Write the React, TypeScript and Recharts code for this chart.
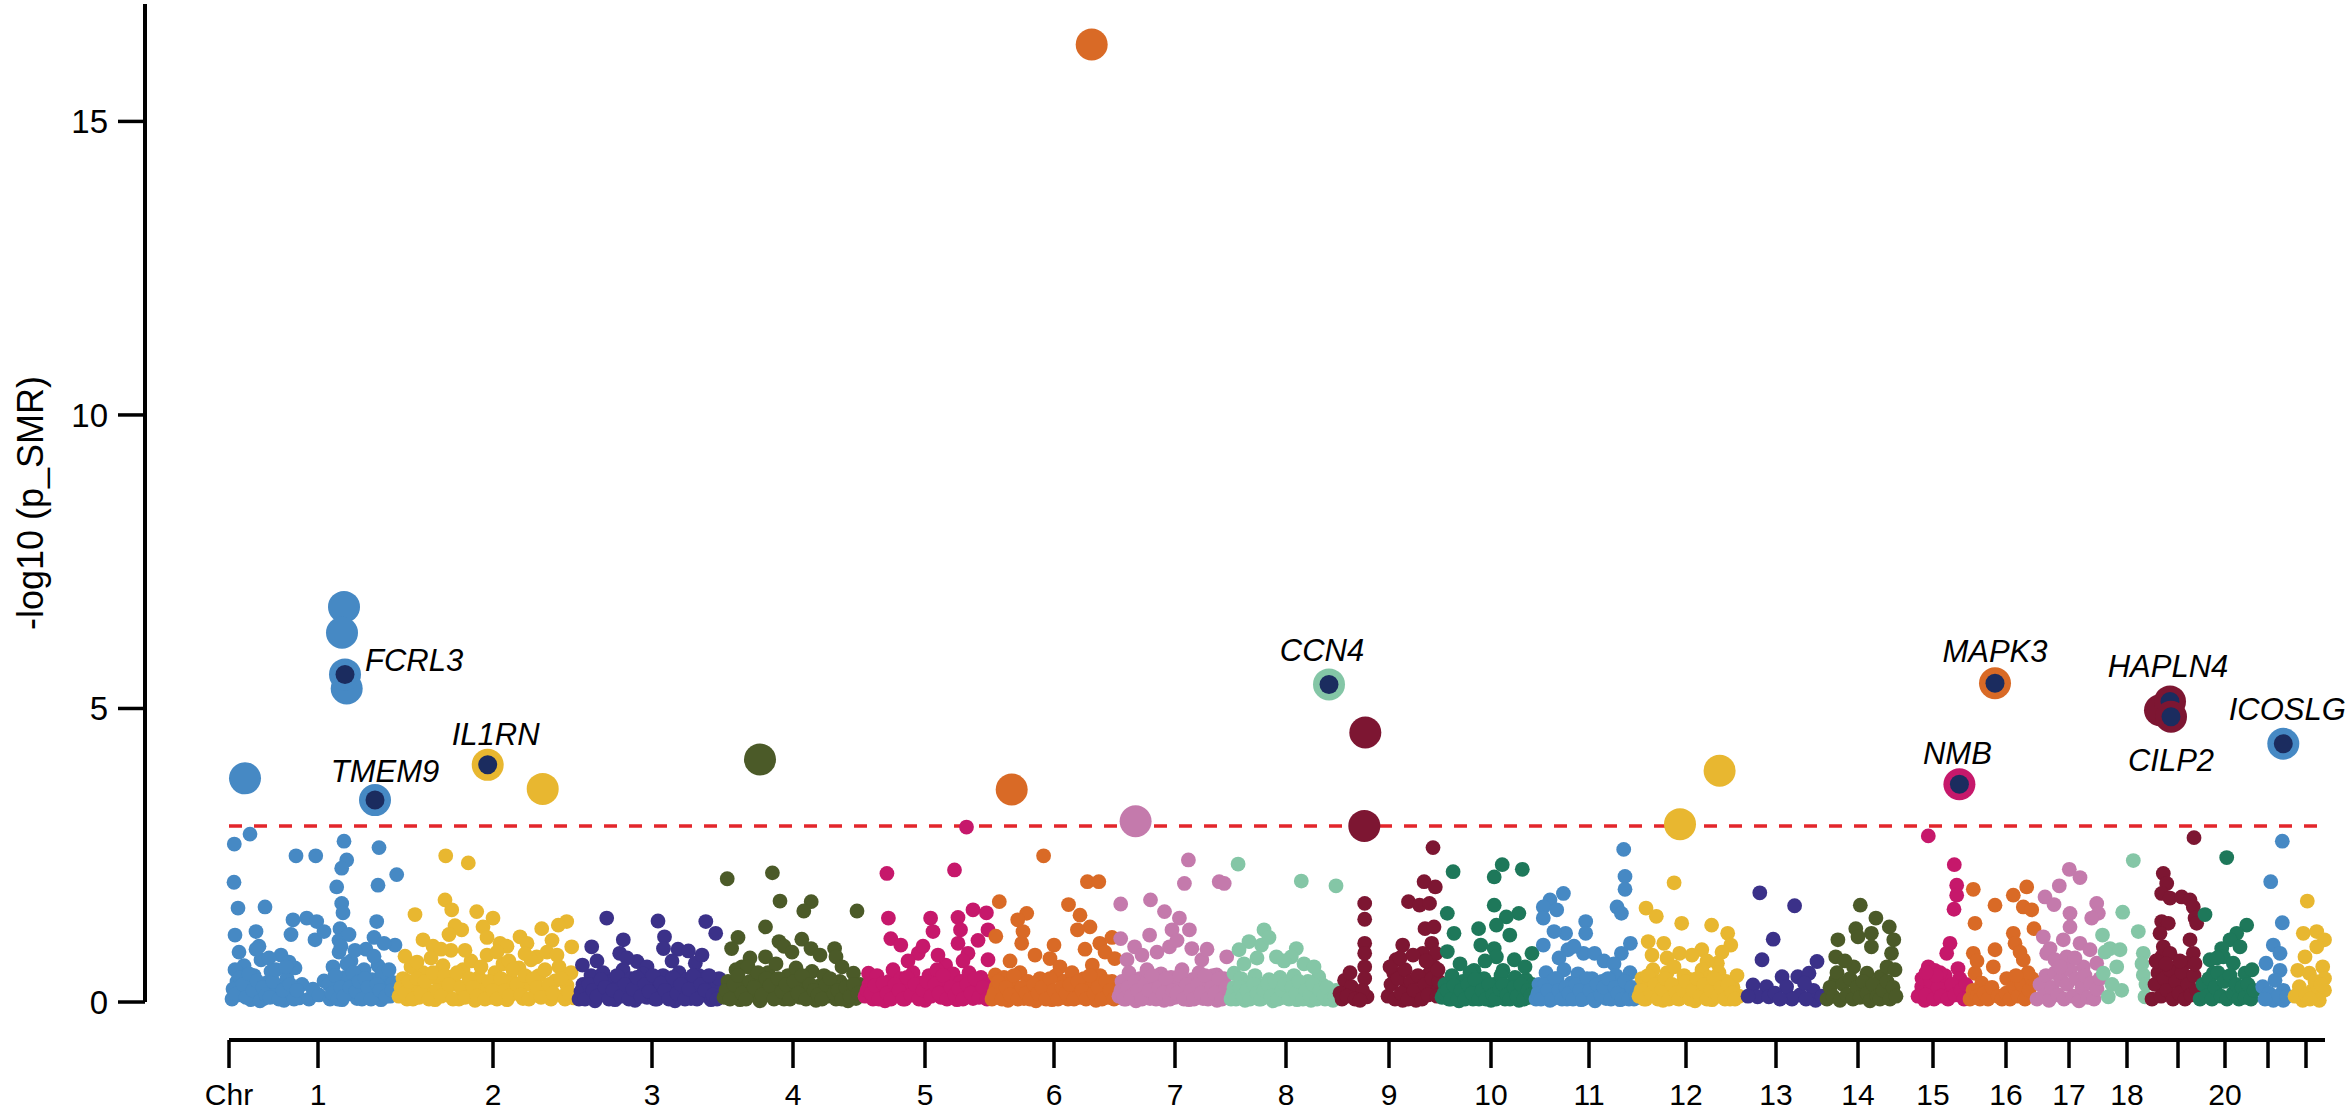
import React from 'react';
import { ScatterChart, Scatter, XAxis, YAxis, ReferenceLine } from 'recharts';

type Pt = [number, number];

const FONT = 'Liberation Sans, Arial, Helvetica, sans-serif';

// genome laid out chromosome after chromosome (arbitrary position units)
const chrLengths = [168, 180, 145, 141, 127, 127, 112, 109, 102, 94, 103, 103, 85, 73, 70, 67, 67, 48, 48, 57, 36, 34];
const chrTickPos = [0, 89, 264, 423, 564, 696, 825, 946, 1057, 1160, 1262, 1360, 1457, 1547, 1629, 1704, 1777, 1840, 1898, 1949, 1996, 2039, 2077];
const chrTickLabels = ['Chr', '1', '2', '3', '4', '5', '6', '7', '8', '9', '10', '11', '12', '13', '14', '15', '16', '17', '18', '', '20', '', ''];
const palette = ['#4689C4', '#E8B730', '#3B3189', '#4B5A28', '#C6186B', '#D96A26', '#C47AAC', '#84C6A6', '#7D1632', '#1E785A'];
const NAVY = '#1B2C5F';
const THRESHOLD = 3;

// [position within chromosome, -log10 p]
const chr1: Pt[] = [[5.3,2.69],[21,2.86],[67,2.49],[86.7,2.49],[115,2.74],[117.7,2.42],[112.7,2.28],[150,2.63],[167.7,2.17],[149,1.99],[5,2.04],[107.7,1.96],[9,1.6],[36,1.62],[27,1.2],[64,1.4],[77.7,1.43],[87.7,1.37],[112.7,1.68],[114,1.52],[147.7,1.37],[166,0.97],[86,1.06],[6,1.14],[111,1.25],[110,1.05],[120,1.15],[145,1.1],[155,1.0],[62,1.15],[95,1.2],[30,0.95],
  [3,0.05],[8,0.35],[12,0.12],[15,0.62],[18,0.28],[22,0.04],[25,0.45],[29,0.18],[32,0.72],[35,0.06],[38,0.33],[42,0.52],[45,0.1],[48,0.25],[52,0.8],[55,0.03],[58,0.4],[62,0.15],[66,0.58],[70,0.07],[73,0.3],[80,0.05],[84,0.22],[90,0.12],[95,0.36],[101,0.05],[104,0.6],[107,0.2],[110,0.85],[113,0.04],[116,0.42],[119,0.14],[122,0.7],[125,0.3],[128,0.06],[131,0.5],[134,0.22],[137,0.9],[140,0.08],[143,0.38],[146,0.16],[149,0.62],[152,0.04],[155,0.28],[158,0.46],[161,0.1],[164,0.33],[6,0.55],[10,0.85],[27,0.9],[40,0.75],[60,0.68],[112,0.95],[118,0.65],[126,0.88],[135,0.55],[145,0.78],[153,0.5],
  [4,0.22],[7,0.14],[11,0.42],[14,0.3],[17,0.08],[20,0.48],[24,0.2],[28,0.36],[31,0.02],[34,0.25],[37,0.12],[41,0.08],[44,0.35],[47,0.55],[50,0.05],[54,0.2],[57,0.6],[61,0.3],[65,0.05],[68,0.2],[100,0.3],[103,0.15],[106,0.45],[109,0.05],[112,0.25],[115,0.1],[121,0.25],[124,0.5],[127,0.18],[130,0.35],[133,0.05],[136,0.4],[139,0.25],[142,0.05],[148,0.3],[151,0.2],[157,0.1],[160,0.55],[163,0.2]];
const chr2: Pt[] = [[48.7,2.49],[71.3,2.37],[18,1.49],[48,1.74],[54.7,1.57],[79.7,1.54],[96,1.43],[144.7,1.25],[169.7,1.37],[161.3,1.31],[26,1.06],[64.7,1.23],[86,1.28],[103,1.0],[123,1.11],[174.7,0.94],[139.7,0.77],[58,1.3],[52,1.15],[90,1.1],[110,0.95],[130,1.0],[155,1.05],[36,0.95],
  [2,0.1],[6,0.4],[10,0.05],[14,0.6],[18,0.25],[22,0.08],[26,0.5],[30,0.2],[34,0.75],[38,0.04],[42,0.35],[46,0.62],[50,0.12],[54,0.88],[58,0.3],[62,0.05],[66,0.55],[70,0.18],[74,0.7],[78,0.03],[82,0.42],[86,0.2],[90,0.8],[94,0.08],[98,0.5],[102,0.25],[106,0.65],[110,0.04],[114,0.38],[118,0.15],[122,0.58],[126,0.06],[130,0.3],[134,0.72],[138,0.12],[142,0.45],[146,0.2],[150,0.85],[154,0.05],[158,0.36],[162,0.6],[166,0.1],[170,0.28],[174,0.5],[177,0.07],[8,0.78],[44,0.9],[68,0.88],[100,0.85],[128,0.82],[160,0.8],[20,0.68],[112,0.7],
  [4,0.25],[8,0.15],[12,0.35],[16,0.05],[20,0.4],[24,0.15],[28,0.35],[32,0.05],[36,0.5],[40,0.2],[44,0.1],[48,0.45],[52,0.3],[56,0.05],[60,0.5],[64,0.25],[68,0.08],[72,0.4],[76,0.25],[80,0.1],[84,0.6],[88,0.05],[92,0.35],[96,0.2],[100,0.05],[104,0.4],[108,0.2],[112,0.1],[116,0.55],[120,0.3],[124,0.12],[128,0.45],[132,0.05],[136,0.4],[140,0.25],[144,0.08],[148,0.55],[152,0.3],[156,0.15],[164,0.4],[168,0.05],[172,0.15]];
const chr3: Pt[] = [[29.7,1.43],[14.7,0.94],[46.3,1.06],[81,1.38],[128.8,1.37],[138.7,1.17],[87.5,1.11],[42.7,0.83],[101,0.9],[111.4,0.87],[118.3,0.66],[60,0.69],[5.4,0.63],[86.5,0.91],[50,0.75],[70,0.6],[95,0.7],[125,0.8],[20,0.7],
  [2,0.05],[6,0.3],[10,0.12],[14,0.45],[18,0.02],[22,0.22],[26,0.5],[30,0.1],[34,0.35],[38,0.04],[42,0.28],[46,0.55],[50,0.15],[54,0.4],[58,0.03],[62,0.25],[66,0.48],[70,0.08],[74,0.32],[78,0.05],[82,0.2],[86,0.45],[90,0.1],[94,0.3],[98,0.02],[102,0.5],[106,0.18],[110,0.38],[114,0.06],[118,0.25],[122,0.45],[126,0.12],[130,0.32],[134,0.04],[138,0.22],[142,0.4],
  [4,0.18],[8,0.05],[12,0.3],[16,0.2],[20,0.1],[24,0.38],[28,0.25],[32,0.05],[36,0.2],[40,0.45],[44,0.1],[48,0.3],[52,0.05],[56,0.22],[60,0.42],[64,0.1],[68,0.3],[72,0.18],[76,0.45],[80,0.05],[84,0.32],[88,0.2],[92,0.05],[96,0.42],[100,0.15],[104,0.3],[108,0.05],[112,0.22],[116,0.45],[120,0.05],[124,0.3],[128,0.2],[132,0.45],[136,0.12],[140,0.05]];
const chr4: Pt[] = [[5.2,2.1],[50.4,2.2],[58,1.72],[89.2,1.71],[81.8,1.55],[135,1.55],[43.5,1.28],[16,1.1],[57,1.03],[79.8,1.07],[112.6,0.91],[114,0.77],[89,0.91],[43.5,0.77],[9.6,0.91],[131.5,0.49],[126.6,0.26],[62,0.95],[70,0.85],[28,0.75],[98,0.8],[20,0.6],[120,0.6],
  [2,0.08],[6,0.35],[10,0.15],[14,0.55],[18,0.04],[22,0.3],[26,0.6],[30,0.12],[34,0.42],[38,0.02],[42,0.25],[46,0.5],[50,0.1],[54,0.65],[58,0.3],[62,0.05],[66,0.45],[70,0.2],[74,0.58],[78,0.08],[82,0.35],[86,0.15],[90,0.52],[94,0.03],[98,0.28],[102,0.45],[106,0.1],[110,0.22],[114,0.05],[118,0.35],[122,0.12],[126,0.02],[130,0.18],[134,0.06],[138,0.3],
  [4,0.2],[8,0.05],[12,0.3],[16,0.45],[20,0.15],[24,0.05],[28,0.35],[32,0.25],[36,0.5],[40,0.12],[44,0.4],[48,0.28],[52,0.05],[56,0.4],[60,0.18],[64,0.3],[68,0.05],[72,0.35],[76,0.15],[80,0.45],[84,0.05],[88,0.3],[92,0.2],[96,0.12],[100,0.05],[104,0.3],[108,0.4],[112,0.15],[116,0.2],[120,0.05],[124,0.25],[128,0.1],[132,0.3],[136,0.15]];
const chr5: Pt[] = [[23.9,2.19],[91.5,2.25],[103.5,2.98],[25.4,1.43],[110,1.57],[123.4,1.52],[95,1.44],[67.6,1.43],[70,1.2],[97.5,1.23],[125,1.23],[27.8,1.08],[37.8,0.97],[55.2,0.83],[95,1.0],[105,0.83],[5.5,0.49],[82.6,0.63],[125,0.72],[60,0.95],[75,0.8],[115,1.05],[45,0.7],[100,0.7],
  [2,0.1],[6,0.3],[10,0.05],[14,0.45],[18,0.18],[22,0.02],[26,0.35],[30,0.55],[34,0.12],[38,0.4],[42,0.05],[46,0.25],[50,0.5],[54,0.1],[58,0.32],[62,0.03],[66,0.45],[70,0.2],[74,0.55],[78,0.08],[82,0.3],[86,0.15],[90,0.48],[94,0.04],[98,0.35],[102,0.18],[106,0.5],[110,0.06],[114,0.28],[118,0.42],[122,0.12],[125,0.3],
  [4,0.2],[8,0.15],[12,0.28],[16,0.05],[20,0.32],[24,0.15],[28,0.05],[32,0.3],[36,0.2],[40,0.05],[44,0.42],[48,0.12],[52,0.3],[56,0.05],[60,0.2],[64,0.35],[68,0.1],[72,0.3],[76,0.15],[80,0.45],[84,0.05],[88,0.25],[92,0.12],[96,0.22],[100,0.05],[104,0.3],[108,0.15],[112,0.4],[116,0.08],[120,0.25],[124,0.05]];
const chr6: Pt[] = [[53.6,2.49],[97.4,2.05],[108.8,2.05],[9.3,1.71],[78.5,1.66],[36.7,1.51],[27.7,1.4],[90,1.48],[100,1.28],[87.4,1.23],[5.8,1.12],[64,0.97],[31.7,1.0],[109.8,1.0],[122,1.1],[124.7,0.74],[60,0.74],[5.3,0.46],[70,0.6],[102.3,0.63],[33,1.2],[95,0.9],[115,0.85],[45,0.8],[20,0.7],
  [2,0.05],[6,0.25],[10,0.1],[14,0.42],[18,0.03],[22,0.3],[26,0.15],[30,0.5],[34,0.06],[38,0.35],[42,0.2],[46,0.02],[50,0.4],[54,0.12],[58,0.28],[62,0.04],[66,0.45],[70,0.18],[74,0.35],[78,0.05],[82,0.5],[86,0.22],[90,0.08],[94,0.4],[98,0.15],[102,0.3],[106,0.03],[110,0.45],[114,0.2],[118,0.08],[122,0.35],[125,0.12],
  [4,0.15],[8,0.35],[12,0.05],[16,0.25],[20,0.12],[24,0.45],[28,0.05],[32,0.25],[36,0.15],[40,0.05],[44,0.3],[48,0.15],[52,0.25],[56,0.05],[60,0.4],[64,0.2],[68,0.05],[72,0.25],[76,0.15],[80,0.3],[84,0.05],[88,0.35],[92,0.2],[96,0.05],[100,0.45],[104,0.15],[108,0.25],[112,0.05],[116,0.35],[120,0.2],[124,0.05]];
const chr7: Pt[] = [[71.4,2.42],[67.4,2.02],[102.2,2.05],[107.2,2.02],[3.7,1.67],[33.5,1.74],[47.5,1.54],[62.4,1.43],[72.4,1.23],[32.6,1.14],[3.7,1.08],[55,1.23],[17.6,0.94],[109.7,0.77],[74.8,0.91],[52.5,0.94],[10,0.72],[84.8,0.72],[99.7,0.46],[60,1.05],[40,0.85],[90,0.9],[25,0.8],
  [2,0.1],[5,0.35],[9,0.05],[12,0.5],[16,0.2],[19,0.02],[23,0.4],[26,0.15],[30,0.55],[33,0.06],[37,0.3],[40,0.12],[44,0.48],[47,0.03],[51,0.25],[54,0.42],[58,0.08],[61,0.32],[65,0.55],[68,0.15],[72,0.04],[75,0.38],[79,0.2],[82,0.5],[86,0.06],[89,0.3],[93,0.12],[96,0.45],[100,0.03],[103,0.25],[107,0.4],[110,0.1],
  [4,0.2],[7,0.05],[11,0.25],[14,0.1],[18,0.35],[21,0.2],[25,0.05],[28,0.3],[32,0.2],[35,0.45],[39,0.05],[42,0.25],[46,0.15],[49,0.4],[53,0.05],[56,0.2],[60,0.15],[63,0.45],[67,0.05],[70,0.3],[74,0.2],[77,0.05],[81,0.3],[84,0.15],[88,0.45],[91,0.05],[95,0.25],[98,0.15],[102,0.4],[105,0.05],[109,0.25]];
const chr8: Pt[] = [[9.1,2.35],[72.3,2.06],[107,1.98],[35,1.23],[20,1.03],[32.5,0.97],[10,0.89],[47.4,0.77],[67.3,0.91],[62.3,0.77],[5,0.49],[89.7,0.43],[40,1.1],[55,0.7],[75,0.65],[28,0.75],[85,0.6],[15,0.65],
  [2,0.05],[5,0.25],[9,0.12],[12,0.4],[16,0.03],[19,0.3],[23,0.15],[26,0.45],[30,0.05],[33,0.28],[37,0.1],[40,0.38],[44,0.02],[47,0.22],[51,0.42],[54,0.08],[58,0.3],[61,0.15],[65,0.45],[68,0.04],[72,0.25],[75,0.1],[79,0.35],[82,0.03],[86,0.2],[89,0.08],[93,0.3],[96,0.05],[100,0.15],[104,0.03],[107,0.2],
  [4,0.15],[7,0.05],[11,0.25],[14,0.1],[18,0.2],[21,0.05],[25,0.3],[28,0.15],[32,0.05],[35,0.2],[39,0.3],[42,0.1],[46,0.35],[49,0.05],[53,0.2],[56,0.3],[60,0.05],[63,0.25],[67,0.15],[70,0.35],[74,0.05],[77,0.2],[81,0.12],[84,0.3],[88,0.05],[91,0.2],[95,0.12],[98,0.25],[102,0.05],[106,0.1]];
const chr9: Pt[] = [[95,2.63],[86.1,2.05],[97.3,1.96],[70.5,1.71],[81.6,1.65],[91.5,1.68],[26.7,1.68],[26.7,1.41],[87,1.25],[96,1.28],[26.7,1.0],[26.7,0.83],[26.7,0.6],[26.7,0.4],[6.6,0.37],[13.3,0.26],[64.7,0.97],[58,0.72],[84.8,0.83],[96,0.6],[93.7,1.0],[55.8,0.49],[69,0.26],[82.5,0.15],[96,0.2],[29,0.09],[24.5,0.2],[2,0.15],[64.7,0.03],[78,0.03],[91.5,0.49],[98,0.83],
  [50,0.1],[53,0.3],[57,0.05],[60,0.4],[63,0.15],[67,0.55],[70,0.05],[73,0.35],[76,0.2],[80,0.45],[84,0.05],[87,0.3],[90,0.12],[94,0.4],[99,0.1],[101,0.35],[52,0.6],[62,0.75],[75,0.8],[88,0.7],[100,0.55],[4,0.05],[9,0.1],[17,0.05],[22,0.03],[12,0.5]];
const chr10: Pt[] = [[13.1,2.22],[62.2,2.34],[82.3,2.26],[54.2,2.13],[54.2,1.65],[7.3,1.51],[78.8,1.51],[66.3,1.45],[38.6,1.25],[56.4,1.31],[14,1.17],[69.8,1.14],[40.8,0.97],[7.3,0.86],[54.2,0.91],[92,0.83],[56.4,0.77],[74.3,0.72],[34,0.54],[63,0.54],
  [2,0.08],[5,0.3],[9,0.05],[12,0.45],[16,0.15],[19,0.02],[23,0.35],[26,0.12],[30,0.5],[33,0.05],[37,0.25],[40,0.08],[44,0.4],[47,0.18],[51,0.03],[54,0.3],[58,0.1],[61,0.45],[65,0.05],[68,0.28],[72,0.12],[75,0.42],[79,0.03],[82,0.22],[86,0.38],[89,0.08],[92,0.3],[20,0.65],[45,0.7],[85,0.6],
  [4,0.15],[7,0.2],[11,0.05],[14,0.28],[18,0.05],[21,0.2],[25,0.05],[28,0.3],[32,0.15],[35,0.38],[39,0.05],[42,0.2],[46,0.05],[49,0.3],[53,0.12],[56,0.05],[60,0.22],[63,0.3],[67,0.12],[70,0.05],[74,0.25],[77,0.1],[81,0.3],[84,0.05],[88,0.2],[91,0.12]];
const chr11: Pt[] = [[89.7,2.6],[91,2.14],[91,1.92],[29.4,1.85],[16,1.74],[9.3,1.62],[22.7,1.57],[51.7,1.37],[9.3,1.43],[83,1.62],[87.4,1.51],[31.6,1.17],[51.7,1.17],[96.4,1.0],[9.3,0.97],[33.9,0.89],[49.5,0.83],[60.6,0.83],[87.4,0.83],[20,1.2],[40,0.95],[70,0.7],[25,0.75],[80,0.65],
  [2,0.05],[5,0.3],[9,0.12],[12,0.5],[16,0.03],[19,0.25],[23,0.4],[26,0.1],[30,0.55],[33,0.05],[37,0.32],[40,0.15],[44,0.48],[47,0.04],[51,0.28],[54,0.1],[58,0.4],[61,0.02],[65,0.2],[68,0.35],[72,0.06],[75,0.25],[79,0.12],[82,0.45],[86,0.04],[89,0.3],[93,0.15],[96,0.5],[100,0.05],
  [4,0.15],[7,0.05],[11,0.3],[14,0.2],[18,0.05],[21,0.4],[25,0.2],[28,0.05],[32,0.25],[35,0.15],[39,0.05],[42,0.3],[46,0.2],[49,0.05],[53,0.4],[56,0.2],[60,0.05],[63,0.3],[67,0.12],[70,0.25],[74,0.4],[77,0.05],[81,0.25],[84,0.15],[88,0.05],[91,0.35],[95,0.05],[98,0.25],[102,0.12]];
const chr12: Pt[] = [[37.1,2.03],[9,1.6],[19.3,1.46],[44.7,1.34],[74.6,1.31],[90.7,1.17],[93.8,0.97],[11.2,1.03],[26.8,1.0],[64.8,0.89],[42.5,0.83],[80.4,0.66],[55,0.8],[30,0.75],[70,0.7],[85,0.85],[15,0.8],
  [2,0.1],[5,0.4],[9,0.05],[12,0.28],[16,0.55],[19,0.12],[23,0.35],[26,0.03],[30,0.5],[33,0.2],[37,0.6],[40,0.06],[44,0.3],[47,0.45],[51,0.1],[54,0.38],[58,0.02],[61,0.25],[65,0.55],[68,0.15],[72,0.42],[75,0.04],[79,0.3],[82,0.5],[86,0.1],[89,0.35],[93,0.05],[96,0.25],[100,0.45],[102,0.1],
  [4,0.2],[7,0.05],[11,0.45],[14,0.15],[18,0.3],[21,0.05],[25,0.22],[28,0.4],[32,0.05],[35,0.3],[39,0.15],[42,0.05],[46,0.2],[49,0.35],[53,0.05],[56,0.2],[60,0.4],[63,0.1],[67,0.3],[70,0.05],[74,0.2],[77,0.4],[81,0.1],[84,0.25],[88,0.05],[91,0.3],[95,0.15],[98,0.05]];
const chr13: Pt[] = [[19.8,1.86],[54.6,1.64],[33.2,1.07],[22,0.72],[77,0.69],[42.1,0.43],[57.8,0.43],[13,0.29],[26.5,0.26],[69,0.49],[17.6,0.09],[28.8,0.09],[48.8,0.09],[60,0.12],[73.4,0.2],[75.6,0.03],[46.6,0.26],[64.5,0.32],[8,0.1],[35,0.15],[52,0.05],[82,0.1],[40,0.05],[66,0.05]];
const chr14: Pt[] = [[35.3,1.65],[50.9,1.43],[64.3,1.28],[30.8,1.25],[46.4,1.17],[12.9,1.06],[33,1.11],[68.8,1.06],[66.5,0.83],[46.4,0.94],[10.7,0.77],[28.6,0.6],[42,0.49],[55.4,0.43],[10.7,0.37],
  [2,0.05],[5,0.25],[8,0.1],[12,0.5],[15,0.03],[18,0.3],[22,0.12],[25,0.4],[28,0.05],[32,0.25],[35,0.08],[38,0.35],[42,0.15],[45,0.02],[48,0.3],[52,0.1],[55,0.05],[58,0.2],[62,0.35],[65,0.05],[68,0.25],[71,0.1],[62,0.6],[70,0.55],[20,0.7]];
const chr15: Pt[] = [[30.3,2.83],[56.3,2.34],[58.7,1.99],[58.7,1.82],[56,1.58],[52,1.0],[30.3,0.6],[48.7,0.83],[36.7,0.54],[60,0.57],[61.7,0.4],[23.7,0.26],[32,0.2],[45.3,0.37],[52,0.2],[26.7,0.03],
  [20,0.1],[24,0.4],[28,0.12],[33,0.35],[36,0.05],[40,0.25],[43,0.1],[47,0.45],[50,0.05],[54,0.3],[57,0.12],[63,0.2],[66,0.05],[68,0.3],[42,0.5],[38,0.45],[28,0.5]];
const chr16: Pt[] = [[5.3,1.92],[27,1.65],[7,1.34],[45.3,1.82],[58.7,1.96],[55.3,1.62],[63.7,1.57],[45.3,1.17],[47,1.0],[27,0.89],[25.3,0.6],[38.7,0.4],[55.3,0.72],[5.3,0.83],[7,0.49],[13.7,0.32],[66,1.25],
  [2,0.05],[5,0.2],[9,0.1],[12,0.05],[16,0.15],[20,0.05],[24,0.25],[30,0.1],[34,0.05],[38,0.15],[42,0.05],[46,0.25],[50,0.1],[54,0.3],[57,0.05],[61,0.2],[64,0.4],[60,0.5],[48,0.45],[9,0.7],[52,0.85]];
const chr17: Pt[] = [[34.3,2.26],[45,2.12],[24.3,1.98],[10,1.79],[19,1.66],[35,1.51],[61.7,1.68],[63.3,1.51],[56.7,1.43],[35,1.28],[8.3,1.11],[15,0.91],[28.3,1.06],[45,1.0],[55,0.89],[11.7,0.83],[20,0.72],[31.7,0.77],[48.3,0.6],[61.7,0.66],
  [2,0.05],[5,0.3],[8,0.1],[11,0.45],[14,0.03],[17,0.25],[20,0.5],[23,0.12],[26,0.38],[29,0.05],[32,0.3],[35,0.55],[38,0.1],[41,0.4],[44,0.02],[47,0.25],[50,0.45],[53,0.08],[56,0.32],[59,0.05],[62,0.22],[65,0.4],[40,0.75],[25,0.6]];
const chr18: Pt[] = [[31.3,2.41],[20.7,1.53],[36.3,1.2],[0.5,1.14],[8,0.91],[18,0.89],[41.3,0.83],[41.3,0.46],[6.3,0.09],[19.7,0.2],[43,0.09],[1.3,0.49],[14.7,0.6],[3,0.85],[10,0.3],[44,0.3],[40,0.65]];
const chr19: Pt[] = [[44,2.8],[13.3,2.19],[16.7,2.02],[11.7,1.85],[20,1.77],[31.7,1.79],[40,1.74],[43.3,1.62],[45,1.43],[46.7,1.34],[11.7,1.37],[18.3,1.34],[10,1.17],[13.3,0.94],[11.7,0.77],[20,0.83],[40,1.06],[43.3,0.83],[35,0.66],
  [2,0.05],[5,0.3],[8,0.5],[11,0.1],[14,0.4],[17,0.2],[20,0.55],[23,0.05],[26,0.35],[29,0.15],[32,0.5],[35,0.05],[38,0.3],[41,0.12],[44,0.45],[47,0.2],[6,0.7],[30,0.7],[45,0.65],[16,0.65]];
const chr20: Pt[] = [[28.7,2.46],[7,1.49],[48.7,1.31],[38.7,1.17],[32,1.06],[23.7,0.91],[42,0.94],[25.3,0.77],[35.3,0.66],[12,0.72],[15.3,0.49],[47,0.49],[48.7,0.2],
  [2,0.05],[5,0.3],[8,0.1],[11,0.4],[14,0.05],[17,0.25],[20,0.5],[23,0.1],[26,0.35],[29,0.05],[32,0.45],[35,0.15],[38,0.3],[41,0.05],[44,0.25],[47,0.08],[50,0.3],[53,0.05],[56,0.2],[19,0.75],[54,0.55]];
const chr21: Pt[] = [[27.3,2.74],[15.7,2.05],[27.3,1.35],[18.3,0.97],[11,0.66],[25,0.54],[7.7,0.26],[20,0.37],[28.3,0.2],[18.3,0.03],[28.3,0.03],[25,0.83],[14,0.15],[23,0.1],[32,0.1],[10,0.05]];
const chr22: Pt[] = [[16.3,1.72],[12.3,1.17],[25.7,1.2],[33.5,1.06],[25.7,0.94],[14,0.77],[6.7,0.54],[18.3,0.49],[31.7,0.6],[33.5,0.4],[8.3,0.26],[21.7,0.2],[33.5,0.2],[11.7,0.03],[28.3,0.03],[4,0.1],[15,0.12],[24,0.35],[30,0.3],[19,0.05]];

const chrPoints = [chr1, chr2, chr3, chr4, chr5, chr6, chr7, chr8, chr9, chr10, chr11, chr12, chr13, chr14, chr15, chr16, chr17, chr18, chr19, chr20, chr21, chr22];

// signals at/above the threshold without a gene name: [chr, position, value]
const topHits: [number, number, number][] = [
  [1, 16, 3.81], [1, 115, 6.73], [1, 113, 6.29], [1, 117.7, 5.34], [2, 145.7, 3.63], [4, 38, 4.13],
  [6, 21.7, 3.62], [6, 101.7, 16.31], [7, 18.6, 3.08], [9, 27.3, 4.59], [9, 26.3, 3.0],
  [12, 43, 3.03], [12, 82.6, 3.94], [19, 10, 4.97],
];

// named genes: [gene, chr, position, value]
const geneHits: [string, number, number, number][] = [
  ['FCRL3', 1, 116, 5.58], ['TMEM9', 1, 146, 3.44], ['IL1RN', 2, 90.7, 4.04], ['CCN4', 8, 100, 5.41],
  ['NMB', 15, 61.4, 3.71], ['MAPK3', 16, 27, 5.43], ['HAPLN4', 19, 20, 5.12], ['CILP2', 19, 21, 4.86],
  ['ICOSLG', 21, 28.3, 4.40],
];

const labelPlacement: Record<string, { dx: number; dy: number; anchor: string }> = {
  FCRL3: { dx: 20, dy: -3, anchor: 'start' },
  TMEM9: { dx: 10, dy: -18, anchor: 'middle' },
  IL1RN: { dx: 8, dy: -20, anchor: 'middle' },
  CCN4: { dx: -7, dy: -23, anchor: 'middle' },
  NMB: { dx: -2, dy: -20, anchor: 'middle' },
  MAPK3: { dx: 0, dy: -21, anchor: 'middle' },
  HAPLN4: { dx: -2, dy: -24, anchor: 'middle' },
  CILP2: { dx: 0, dy: 54, anchor: 'middle' },
  ICOSLG: { dx: 4, dy: -24, anchor: 'middle' },
};

const offsets: number[] = [];
chrLengths.reduce((acc, len, i) => { offsets[i] = acc; return acc + len; }, 0);
const X_MAX = chrLengths.reduce((a, b) => a + b, 0);
const X_MIN = -84;
const Y_MAX = 17;
const Y_MIN = -0.647;
const colorOf = (chr: number) => palette[(chr - 1) % palette.length];

const chrSeries = chrPoints.map((pts, i) => pts.map(([pos, v]) => ({ x: offsets[i] + pos, y: v })));
const topData = topHits.map(([chr, pos, v]) => ({ x: offsets[chr - 1] + pos, y: v, color: colorOf(chr) }));
const geneData = geneHits.map(([gene, chr, pos, v]) => ({ x: offsets[chr - 1] + pos, y: v, color: colorOf(chr), gene }));

const tickLabelOf = (v: number) => {
  const i = chrTickPos.indexOf(v);
  return i >= 0 ? chrTickLabels[i] : '';
};

const smallDot = (color: string) => (props: any) => (
  <circle cx={props.cx} cy={props.cy} r={7.4} fill={color} />
);

const bigDot = (props: any) => (
  <circle cx={props.cx} cy={props.cy} r={16} fill={props.payload.color} />
);

const geneDot = (props: any) => {
  const { cx, cy, payload } = props;
  const p = labelPlacement[payload.gene];
  return (
    <g>
      <circle cx={cx} cy={cy} r={16} fill={payload.color} />
      <circle cx={cx} cy={cy} r={9.5} fill={NAVY} />
      <text x={cx + p.dx} y={cy + p.dy} textAnchor={p.anchor} fontSize={31} fontStyle="italic" fontFamily={FONT} fill="#000">
        {payload.gene}
      </text>
    </g>
  );
};

const YTitle = (props: any) => {
  const vb = props.viewBox || { x: 0, y: 4, width: 145, height: 1036 };
  const cx = vb.x + 30;
  const cy = vb.y + (vb.height - 38) / 2;
  return (
    <text x={cx} y={cy} transform={`rotate(-90 ${cx} ${cy})`} textAnchor="middle" dominantBaseline="central" fontSize={36} fontFamily={FONT} fill="#000">
      -log10 (p_SMR)
    </text>
  );
};

export default function App() {
  return (
    <div style={{ position: 'absolute', left: 0, top: 0, background: '#fff' }}>
      <ScatterChart width={2352} height={1112} margin={{ top: 4, right: 27, bottom: 0, left: 0 }}>
        <XAxis
          type="number"
          dataKey="x"
          domain={[X_MIN, X_MAX]}
          ticks={chrTickPos}
          interval={0}
          tickFormatter={tickLabelOf}
          axisLine={false}
          tickLine={{ stroke: '#000', strokeWidth: 3.5 }}
          tickSize={28}
          tickMargin={16}
          height={72}
          tick={{ fontSize: 30, fill: '#000', fontFamily: FONT }}
        />
        <YAxis
          type="number"
          dataKey="y"
          domain={[Y_MIN, Y_MAX]}
          ticks={[0, 5, 10, 15]}
          interval={0}
          axisLine={false}
          tickLine={{ stroke: '#000', strokeWidth: 3.5 }}
          tickSize={27}
          tickMargin={10}
          width={145}
          tick={{ fontSize: 33, fill: '#000', fontFamily: FONT }}
          label={{ content: YTitle }}
        />
        <ReferenceLine segment={[{ x: X_MIN, y: 0 }, { x: X_MIN, y: Y_MAX }]} stroke="#000" strokeWidth={4} ifOverflow="visible" />
        <ReferenceLine segment={[{ x: 0, y: Y_MIN }, { x: X_MAX, y: Y_MIN }]} stroke="#000" strokeWidth={4} ifOverflow="visible" />
        <ReferenceLine segment={[{ x: 0, y: THRESHOLD }, { x: X_MAX, y: THRESHOLD }]} stroke="#E3262B" strokeWidth={3.5} strokeDasharray="13 12" ifOverflow="visible" />
        {chrSeries.map((data, i) => (
          <Scatter key={i} data={data} shape={smallDot(palette[i % palette.length])} isAnimationActive={false} />
        ))}
        <Scatter data={topData} shape={bigDot} isAnimationActive={false} />
        <Scatter data={geneData} shape={geneDot} isAnimationActive={false} />
      </ScatterChart>
    </div>
  );
}
